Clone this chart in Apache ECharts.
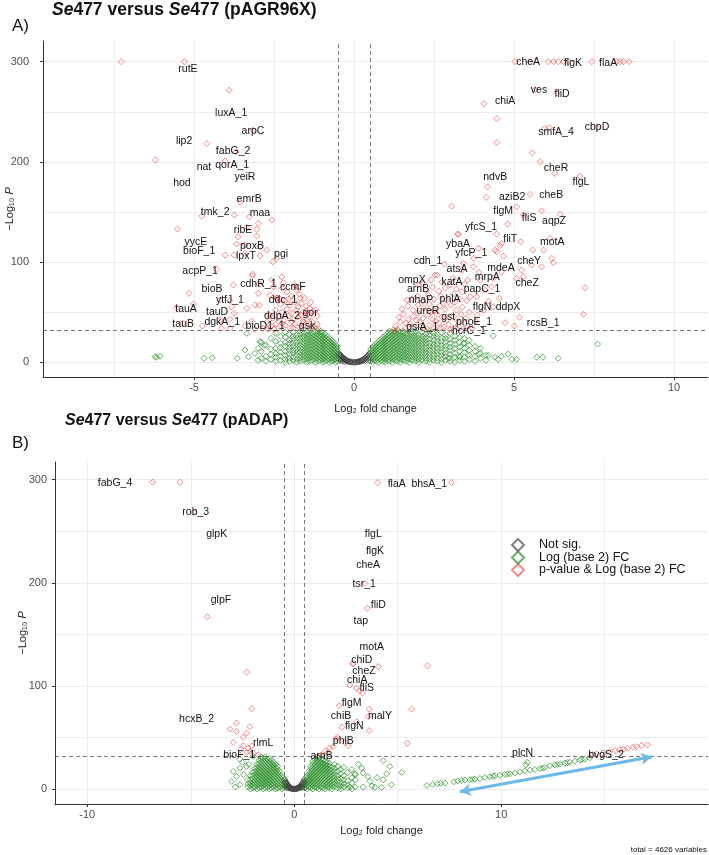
<!DOCTYPE html>
<html>
<head>
<meta charset="utf-8">
<script src="https://cdn.jsdelivr.net/npm/echarts@6/dist/echarts.min.js"></script>
<style>
  html, body { margin: 0; padding: 0; background: #fff; }
  #chart { width: 709px; height: 855px; }
</style>
</head>
<body>
<div id="chart"></div>
<script>
var FONT = 'Liberation Sans, Arial, sans-serif';

var seriesNames = ['Not sig.', 'Log (base 2) FC', 'p-value & Log (base 2) FC'];
var fcCutoff = 0.5;
var pCutoff = 32;

var xTicksA = [-5, 0, 5, 10];
var xGridA = [-7.5, -5, -2.5, 0, 2.5, 5, 7.5, 10];
var xTicksB = [-10, 0, 10];
var xGridB = [-10, -5, 0, 5, 10, 15];
var yTicks = [0, 100, 200, 300];
var yGrid = [0, 50, 100, 150, 200, 250, 300];

// ---------- panel A : Se477 vs Se477 (pAGR96X) ----------
var greyA = [[-0.49,9.8],[-0.48,7.5],[-0.47,5.2],[-0.46,8.6],[-0.45,3.1],[-0.44,6.9],[-0.43,1.4],[-0.42,7.2],[-0.41,4.3],[-0.4,6.3],
  [-0.39,2.2],[-0.38,5.6],[-0.36,4.9],[-0.35,1.1],[-0.34,4.4],[-0.33,3.0],[-0.31,3.7],[-0.3,0.8],[-0.29,3.2],[-0.27,2.6],
  [-0.26,1.4],[-0.24,2.2],[-0.22,1.6],[-0.2,0.6],[-0.18,1.2],[-0.16,0.9],[-0.14,0.4],[-0.12,0.6],[-0.1,0.3],[-0.08,0.2],
  [-0.05,0.1],[-0.02,0.05],[0.01,0.05],[0.04,0.1],[0.07,0.2],[0.09,0.4],[0.11,0.3],[0.13,0.7],[0.15,0.5],[0.17,1.0],
  [0.19,1.4],[0.21,0.7],[0.23,1.9],[0.25,2.3],[0.27,1.2],[0.29,3.0],[0.3,2.0],[0.32,3.6],[0.34,4.1],[0.35,1.5],
  [0.37,4.8],[0.39,5.4],[0.4,2.7],[0.42,6.3],[0.43,3.9],[0.44,7.1],[0.46,8.0],[0.47,5.0],[0.48,1.8],[0.49,9.5]];

// green columns: [log2FC, [-log10 p values]]
var greenColsA = [
  [0.52,[1,4,7,10,13]],[0.58,[0,3,6,9,12,15]],[0.64,[2,5,8,11,14,17]],[0.7,[1,4,7,10,13,16,19]],
  [0.77,[0,3,6,9,12,15,18,21]],[0.84,[2,5,8,11,14,17,20,23]],[0.91,[1,4,7,10,13,16,19,22,25]],
  [0.98,[0,3,6,9,12,15,18,21,24,27]],[1.05,[2,5,8,11,14,17,20,23,26,29]],[1.12,[1,4,7,10,13,16,19,22,25,28,31]],
  [1.2,[0,3,6,9,12,15,18,21,24,27,30]],[1.28,[2,5,8,11,14,17,20,23,26,29,31]],[1.36,[1,4,7,10,13,16,19,22,25,28,31]],
  [1.45,[0,3,6,9,12,15,18,21,24,27,30]],[1.54,[2,5,8,11,14,17,20,23,26,29,31]],[1.63,[1,4,7,10,13,16,19,22,25,28]],
  [1.72,[0,3,6,9,12,15,18,21,24,27,30]],[1.82,[2,5,8,11,14,17,20,23,26,29]],[1.92,[1,4,7,10,13,16,19,22,25,28,31]],
  [2.02,[0,3,6,9,12,15,18,21,24,27]],[2.13,[2,5,8,11,14,17,20,23,26,30]],[2.24,[1,4,7,10,13,16,19,22,25,28]],
  [2.36,[0,3,6,9,12,16,19,23,27,31]],[2.48,[2,5,8,12,15,18,22,26,29]],[2.6,[1,4,8,11,14,18,21,25,28]],
  [2.73,[0,3,7,10,14,17,21,24,30]],[2.86,[2,6,9,13,16,20,24,27]],[3.0,[1,4,8,12,15,19,23,29]],
  [3.15,[0,5,9,14,18,22,26]],[3.3,[2,6,11,15,20,25]],[3.45,[1,5,10,14,19,24]],[3.6,[3,7,12,17,22]],
  [3.78,[1,6,11,16]],[3.95,[4,9,14]],[4.12,[2,7]],
  [-0.52,[1,4,7,10,13,16]],[-0.58,[0,3,6,9,12,15,18]],[-0.64,[2,5,8,11,14,17,20]],[-0.7,[1,4,7,10,13,16,19,22]],
  [-0.77,[0,3,6,9,12,15,18,21,24]],[-0.84,[2,5,8,11,14,17,20,23,26]],[-0.91,[1,4,7,10,13,16,19,22,25,28]],
  [-0.98,[0,3,6,9,12,15,18,21,24,27,30]],[-1.05,[2,5,8,11,14,17,20,23,26,29,31]],[-1.13,[1,4,7,10,13,16,19,22,25,28,31]],
  [-1.21,[0,3,6,9,12,15,18,21,24,27,30]],[-1.3,[2,5,8,11,14,17,20,23,26,29]],[-1.39,[1,4,7,10,13,16,19,22,25,28,31]],
  [-1.48,[0,3,6,9,12,15,18,21,24,27,30]],[-1.58,[2,5,8,11,14,17,20,23,26,29]],[-1.68,[1,4,7,10,14,17,21,24,28,31]],
  [-1.79,[0,3,7,10,13,17,20,24,27]],[-1.9,[2,5,9,12,16,19,23,26,30]],[-2.02,[1,4,8,12,15,19,22,28]],
  [-2.15,[0,3,7,11,16,20,25,30]],[-2.3,[2,6,10,15,19,26]],[-2.45,[1,5,9,14,21,29]],[-2.6,[3,8,13,24]],
  [-2.75,[1,6,17]],[-2.9,[4,11,20]]];
var greenA = [[4.35,26.5],[3.42,18.9],[4.82,8.3],[4.93,3],[5.08,3],[5.71,5],[5.9,5],[6.38,4],[7.61,18.2],[4.4,5],
  [4.5,3],[4.2,7],[3.9,8],[2.95,4],[3.3,5],[4.6,6],[-3.35,28.9],[-3.41,12.3],[-3.3,5.6],[-4.69,4],[-4.43,4.6],
  [-3.65,4],[-6.22,5.5],[-6.17,5],[-6.06,6],[-2.94,20.5],[-2.99,14],[-2.8,17],[-3.1,9],[-3.0,2]];

var redA = [[-7.28,300],[-5.30,300],[-3.90,271.5],[-4.6,218.3],[-6.21,202],[-4.03,201],[-3.15,231.6],[-3.69,210],
  [-3.56,160],[-4.76,145.9],[-3.74,146.9],[-3.27,145.2],[-2.57,141.9],[-2.99,138.6],[-5.52,132.9],[-3.35,134.6],
  [-3.04,132.6],[-3.62,125.2],[-3.04,125.9],[-3.41,117],[-3.67,118],[-2.94,115.3],[-2.73,112],[-4.03,107],[-3.75,107],
  [-3.41,108.7],[-2.94,106.3],[-2.54,100.3],[-2.42,103.7],[-4.29,92.7],[-3.17,88],[-2.26,85.3],[-2.21,79.4],[-3.77,77.1],
  [-2.96,78.1],[-2.52,75.4],[-2.57,82],[-2.24,73.8],[-5.16,68.8],[-2.99,68.8],[-2.63,67.1],[-2.42,63.8],[-2.33,63.8],
  [-5.02,58.1],[-5.54,54.8],[-4.19,62.1],[-3.88,61.4],[-3.82,55.4],[-3.35,53.8],[-3.09,57.1],[-2.96,57.1],[-3.75,48.9],
  [-3.88,42.9],[-4.19,42.2],[-4.74,36.2],[-5.35,38.9],[-4.14,33.9],[-3.88,33.9],[-3.18,86.3],
  [-2.1,70],[-1.95,66],[-1.8,72],[-1.7,68],[-1.55,64],[-2.3,58],[-2.15,61],[-2.0,57],[-1.85,60],[-1.65,59],[-1.5,56],
  [-1.35,60],[-1.2,52],[-2.45,52],[-2.25,50],[-2.1,53],[-1.95,49],[-1.8,52],[-1.6,50],[-1.45,48],[-1.3,51],[-1.15,46],
  [-2.55,44],[-2.35,45],[-2.2,42],[-2.05,46],[-1.9,43],[-1.75,45],[-1.6,41],[-1.45,43],[-1.3,40],[-1.15,38],[-2.6,36],
  [-2.45,38],[-2.3,35],[-2.15,37],[-2.0,34],[-1.85,38],[-1.7,35],[-1.55,37],[-1.4,34],[-1.25,35],[-1.1,33],[-2.7,33],
  [-2.5,33],[-1.95,40],[-1.65,47],[-1.4,45],[-1.75,55],[-2.4,64],[-1.58,40],[-1.3,36],[-1.9,34],[-2.25,39],[-1.5,51],
  [-2.05,63],[-1.85,77],[-1.75,75],[-1.68,64],[-1.38,54],[-3.1,33],[-2.85,34],[-2.72,40],[-2.68,48],[-3.2,41],[-3.4,36],
  [5.03,300],[5.5,300],[6.07,300],[6.23,300],[6.38,300],[6.54,300],[6.70,300],[7.43,300],[8.21,300],[8.31,300],[8.42,300],
  [8.60,300],[5.66,272],[6.33,268.8],[4.06,258.2],[4.46,243.2],[5.95,233.3],[6.10,234.3],[7.60,234],[4.46,219.3],
  [5.57,209],[5.82,200],[6.28,188.4],[7.06,185.7],[4.17,175.1],[4.13,164.5],[5.5,167.5],[3.05,155.8],[5.08,155.1],
  [5.86,151.1],[6.44,147.6],[5.29,146.9],[4.80,137.9],[3.23,127.9],[4.46,127.9],[6.13,123.6],[4.61,118.6],[4.56,116.5],
  [5.21,120.2],[5.92,112],[5.58,112],[4.41,112],[4.67,106],[6.18,103.7],[5.55,97],[5.86,95.3],[6.23,99.3],[3.73,95.3],
  [2.82,98],[5.24,92],[5.08,83.7],[7.22,74.4],[4.35,83.7],[2.60,87],[2.01,77.1],[4.54,63.8],[7.17,47.9],[5.17,44.9],
  [4.72,39.5],[5.01,36.2],[3.63,65.4],[3.83,65.4],[1.65,62.1],[1.23,32.2],[3.89,113.7],[4.46,110.3],[3.73,103.7],
  [3.42,98.7],[2.53,87],[3.37,92],[4.61,90.3],[5.29,85.3],[2.17,78.8],[3.0,77.1],[3.94,82.1],[4.3,75.4],[3.37,70.4],
  [3.52,61.4],[4.35,55.4],[3.26,127.6],
  [1.3,36],[1.45,40],[1.6,34],[1.75,38],[1.9,35],[2.05,40],[2.2,33],[2.35,37],[2.5,34],[2.65,39],[2.8,35],[2.95,38],
  [3.1,34],[3.25,37],[3.4,33],[3.55,36],[3.7,34],[1.4,45],[1.55,48],[1.7,43],[1.85,46],[2.0,49],[2.15,44],[2.3,47],
  [2.45,43],[2.6,48],[2.75,45],[2.9,42],[3.05,46],[3.2,43],[3.35,48],[3.5,44],[3.8,41],[1.5,53],[1.68,56],[1.85,52],
  [2.0,57],[2.18,54],[2.35,58],[2.5,52],[2.68,56],[2.85,53],[3.02,57],[3.2,52],[3.38,55],[3.6,50],[1.8,63],[1.98,66],
  [2.15,61],[2.32,67],[2.5,63],[2.7,66],[2.9,62],[3.1,68],[3.3,63],[2.25,72],[2.45,75],[2.65,71],[2.85,74],[3.2,73],
  [3.45,78],[2.4,82],[2.75,80],[3.1,84],[3.55,82],[1.35,33],[2.1,36],[2.55,41],[3.0,32.5],[1.95,42],[2.4,50],[2.8,59],
  [3.15,60],[1.62,39],[2.72,34],[3.45,39],[3.85,47],[4.05,52],[4.2,61],[4.1,72],[3.9,90]];

var labelsA = [['rutE',-5.19,292.4],['luxA_1',-3.84,248.5],['arpC',-3.16,230.6],['lip2',-5.31,220.6],['fabG_2',-3.78,210.7],
  ['nat',-4.69,194.8],['qorA_1',-3.81,196.8],['yeiR',-3.41,184.8],['hod',-5.38,179],['emrB',-3.28,162.8],['tmk_2',-4.34,149.9],
  ['maa',-2.94,148.9],['ribE',-3.47,131.9],['yycE',-4.94,120],['poxB',-3.19,116],['bioF_1',-4.84,111],['lpxT',-3.38,106],
  ['pgi',-2.28,108],['acpP_1',-4.81,91],['cdhR_1',-2.99,78],['ccmF',-1.91,75],['bioB',-4.44,73],['ytfJ_1',-3.88,62],
  ['ddc_1',-2.22,62],['tauA',-5.25,53],['tauD',-4.28,50],['ddpA_2',-2.25,46],['gor',-1.375,49],['tauB',-5.34,38],
  ['dgkA_1',-4.12,40],['bioD1_1',-2.78,36],['gsk',-1.47,36],
  ['cheA',5.44,299.4],['flgK',6.84,299],['flaA',7.94,299],['ves',5.78,271.5],['fliD',6.5,267.5],['chiA',4.72,260.5],
  ['smfA_4',6.31,229.5],['cbpD',7.59,234.5],['cheR',6.31,193.6],['ndvB',4.41,184.7],['flgL',7.09,179.7],['aziB2',4.94,164.7],
  ['cheB',6.16,166.8],['flgM',4.66,151],['fliS',5.47,143.8],['aqpZ',6.25,141],['yfcS_1',3.97,135],['fliT',4.88,123],
  ['motA',6.19,120],['ybaA',3.25,118],['yfcP_1',3.66,109],['cdh_1',2.31,101],['cheY',5.47,101],['atsA',3.22,93],
  ['mdeA',4.59,94],['ompX',1.81,82],['katA',3.06,80],['mrpA',4.16,85],['cheZ',5.41,79],['arnB',2.0,73],['papC_1',4.0,73],
  ['nhaP',2.09,62],['phlA',3.0,63],['flgN',4.0,55],['ddpX',4.81,55],['ureR',2.31,51],['gst',2.94,45],['phoE_1',3.75,40],
  ['rcsB_1',5.91,39],['gsiA_1',2.13,35],['hcrC_1',3.59,31]];

// ---------- panel B : Se477 vs Se477 (pADAP) ----------
var greyB = [[-0.49,8.9],[-0.47,6.2],[-0.46,9.5],[-0.45,3.8],[-0.43,7.4],[-0.42,1.9],[-0.41,5.6],[-0.39,6.5],[-0.38,2.9],
  [-0.36,5.2],[-0.35,0.9],[-0.33,4.1],[-0.31,2.4],[-0.3,3.6],[-0.28,1.2],[-0.26,2.8],[-0.24,1.9],[-0.22,0.7],[-0.2,1.5],
  [-0.18,0.9],[-0.15,0.6],[-0.12,0.4],[-0.09,0.2],[-0.06,0.1],[-0.03,0.1],[0,0.05],[0.03,0.1],[0.06,0.2],[0.09,0.3],
  [0.12,0.5],[0.15,0.4],[0.17,1.1],[0.2,0.8],[0.22,1.8],[0.24,1.0],[0.26,2.5],[0.28,1.6],[0.3,3.3],[0.32,2.2],[0.34,4.2],
  [0.36,1.4],[0.37,4.9],[0.39,3.1],[0.41,5.9],[0.42,2.4],[0.44,6.8],[0.45,4.5],[0.47,8.1],[0.48,1.2],[0.49,9.6],[0.5,5.5]];

var greenColsB = [
  [-0.52,[1,4,7]],[-0.6,[0,3,6,9,12]],[-0.7,[2,5,8,11,14,17]],[-0.8,[1,4,7,10,13,16,19,22]],
  [-0.9,[0,3,6,9,12,15,18,21,24]],[-1.0,[2,5,8,11,14,17,20,23,26]],[-1.1,[1,4,7,10,13,16,19,22,25,28]],
  [-1.2,[0,3,6,9,12,15,18,21,24,27,30]],[-1.3,[2,5,8,11,14,17,20,23,26,29]],[-1.4,[1,4,7,10,13,16,19,22,25,28,31]],
  [-1.5,[0,3,6,9,12,15,18,21,24,27,30]],[-1.6,[2,5,8,11,14,17,20,23,26,29,31]],[-1.7,[1,4,7,10,13,16,19,22,25,28]],
  [-1.8,[0,3,6,9,12,15,18,21,24]],[-1.9,[2,5,8,11,14,17,20]],[-2.0,[1,4,7,10,13,16]],[-2.12,[0,3,6,9,13]],
  [-2.25,[2,5,9]],
  [0.52,[1,4,7]],[0.6,[0,3,6,9,12]],[0.7,[2,5,8,11,14,17]],[0.8,[1,4,7,10,13,16,19,22]],
  [0.9,[0,3,6,9,12,15,18,21,24,27]],[1.0,[2,5,8,11,14,17,20,23,26,29]],[1.1,[1,4,7,10,13,16,19,22,25,28,31]],
  [1.2,[0,3,6,9,12,15,18,21,24,27,30]],[1.3,[2,5,8,11,14,17,20,23,26,29]],[1.4,[1,4,7,10,13,16,19,22,25,28]],
  [1.5,[0,3,6,9,12,15,18,21,24,27]],[1.6,[2,5,8,11,14,17,20,23,26]],[1.7,[1,4,7,10,13,16,19,22,25]],
  [1.82,[0,3,6,9,12,15,18,21]],[1.95,[2,5,8,11,14,17,20,24]],[2.1,[1,4,7,10,13,17,22]],[2.25,[0,3,6,10,15,19]],
  [2.4,[2,5,9,13,21]],[2.58,[1,4,8,16]],[2.78,[0,6,11,19]],[2.95,[2,9,14]]];
var greenB = [[-3.02,7.4],[-2.63,4.2],[-2.79,12.3],[-2.95,17.1],[-2.63,20.3],[-2.31,21.9],[-2.63,29.0],[-1.99,31.6],
  [-2.45,14],[-2.5,26],[-2.2,24],[-2.85,2],
  [3.26,20.3],[3.33,15.5],[4.3,27.6],[4.62,21.9],[4.46,14.8],[4.3,9.0],[5.19,16.1],[4.70,4.2],[3.66,7.4],[3.90,1.9],
  [3.33,1.9],[4.22,1.6],[2.93,14.8],[2.69,1.9],[3.1,24],[3.55,12],[4.0,11],[3.75,3],
  [6.40,3.5],[6.69,4.5],[6.91,5.1],[7.07,5.5],[7.28,5.8],[7.71,7.1],[8.09,8.3],[8.25,8.7],[8.49,9.0],[8.73,9.7],
  [8.97,10.3],[9.21,11.3],[9.45,11.9],[9.70,12.9],[9.94,13.5],[10.18,14.2],[10.42,14.8],[10.66,15.5],[10.90,16.8],
  [11.14,17.7],[11.39,18.4],[11.63,19.0],[11.87,19.9],[12.11,20.9],[12.35,22.6],[12.59,23.5],[12.84,24.2],[13.08,25.2],
  [13.32,26.1],[13.56,27.1],[13.80,28.0],[14.04,29.0],[14.28,30.3],[11.26,25.8],[11.19,23.5],[9.6,12.4],[10.3,14.6],
  [12.0,20.3],[12.7,23.9],[13.2,25.6],[13.9,28.6],[8.6,9.4],[7.9,7.7]];

var redB = [[-6.84,297.5],[-5.52,297.5],[-4.85,268],[-4.2,167],[-2.30,113.3],[-2.06,77.8],[-2.79,63.9],[-3.11,58.1],
  [-2.79,55.8],[-2.14,60.6],[-2.30,54.2],[-2.46,50.3],[-2.95,45.2],[-2.23,39.7],[-2.46,42],[-2.14,36.5],[-1.97,34.8],
  [-2.30,35.5],[-1.75,33.2],[-2.6,38],[-2.05,42],
  [4.03,297.2],[7.6,297.2],[3.53,175.2],[3.42,199.4],[6.44,119.4],[4.06,118.7],[2.82,121.3],[2.69,100.7],[3.0,98],
  [3.15,95],[3.3,93],[2.17,80.6],[3.62,77.4],[5.67,77.4],[3.01,65.4],[3.58,70.3],[3.62,56.7],[5.46,44.5],[2.61,41.9],
  [2.08,50.3],[1.5,37],[1.7,40],[1.88,41.3],[1.6,35],[1.3,33],[2.04,48.5],[2.85,121.6],[2.3,60],[2.45,45],
  [14.4,33.5],[14.6,34.2],[14.93,34.8],[15.25,36.5],[15.5,37.3],[15.73,38.1],[15.9,38.7],[16.1,39.5],[16.38,40.7],
  [16.55,41.2],[16.78,42.3],[17.07,42.9]];

var labelsB = [['fabG_4',-8.66,296.8],['rob_3',-4.76,268.7],['glpK',-3.75,247],['glpF',-3.54,183.3],['flaA',4.95,295.9],
  ['bhsA_1',6.52,295.9],['flgL',3.82,247.1],['flgK',3.9,230.4],['cheA',3.57,216.8],['tsr_1',3.38,198.7],['fliD',4.06,178.7],
  ['tap',3.22,162.9],['motA',3.74,138],['chiD',3.26,125.2],['cheZ',3.37,114.8],['chiA',3.04,105.8],['fliS',3.5,97.4],
  ['flgM',2.77,83.2],['chiB',2.26,70.3],['malY',4.14,70.3],['flgN',2.9,60.6],['phlB',2.37,46.1],['arnB',1.32,32.2],
  ['rlmL',-1.5,44.5],['hcxB_2',-4.72,68],['bioF_1',-2.66,33.2],['plcN',11.03,34.8],['bvgS_2',15.06,32.5]];

// highlighted trend in panel B (double arrow, data coords)
var arrowB = [[8.0, -2.6], [17.28, 31.3]];

function flatten(cols, extra) {
  var out = [];
  cols.forEach(function (c) {
    c[1].forEach(function (y) { out.push([c[0], y]); });
  });
  return out.concat(extra);
}

var colours = ['rgba(60,60,60,0.8)', 'rgba(34,139,34,0.85)', 'rgba(232,20,20,0.62)'];

function pointSeries(name, data, colour, xi, yi, extra) {
  var s = {
    name: name,
    type: 'scatter',
    xAxisIndex: xi,
    yAxisIndex: yi,
    data: data,
    symbol: 'diamond',
    symbolSize: 6,
    itemStyle: { color: 'rgba(255,255,255,0)', borderColor: colour, borderWidth: 1 },
    emphasis: { disabled: true },
    silent: true
  };
  for (var k in extra) s[k] = extra[k];
  return s;
}

function labelSeries(id, labels, xi, yi) {
  return {
    id: id,
    type: 'scatter',
    xAxisIndex: xi,
    yAxisIndex: yi,
    symbol: 'circle',
    symbolSize: 0.5,
    itemStyle: { color: 'rgba(255,255,255,0)', borderWidth: 0 },
    silent: true,
    z: 5,
    data: labels.map(function (l) { return { name: l[0], value: [l[1], l[2]] }; }),
    label: {
      show: true,
      position: 'inside',
      formatter: '{b}',
      color: '#111',
      opacity: 1,
      fontFamily: FONT,
      fontSize: 10.5,
      textBorderWidth: 0
    }
  };
}

function cutLines() {
  return {
    silent: true,
    symbol: 'none',
    label: { show: false },
    lineStyle: { color: '#555', type: [4, 3], width: 0.8 },
    data: [{ xAxis: -fcCutoff }, { xAxis: fcCutoff }, { yAxis: pCutoff }]
  };
}

function gridAxis(g, min, max, values, pos) {
  return {
    type: 'value', gridIndex: g, min: min, max: max, position: pos,
    axisLine: { show: false }, axisLabel: { show: false },
    axisTick: { show: false, customValues: values },
    splitLine: { show: true, lineStyle: { color: '#ebebeb', width: 1 } }
  };
}

function mainAxis(g, min, max, values, pos, name, gap, labelMargin) {
  return {
    type: 'value', gridIndex: g, min: min, max: max, position: pos,
    axisLine: { show: true, onZero: false, lineStyle: { color: '#333', width: 1 } },
    axisTick: { show: true, length: 3, customValues: values, lineStyle: { color: '#333' } },
    axisLabel: { customValues: values, color: '#4d4d4d', fontFamily: FONT, fontSize: 11, margin: labelMargin },
    splitLine: { show: false },
    name: name, nameLocation: 'middle', nameGap: gap, nameMoveOverlap: false,
    nameTextStyle: {
      color: '#222', fontFamily: FONT, fontSize: 11,
      rich: { p: { fontStyle: 'italic', fontFamily: FONT, fontSize: 11, color: '#222' } }
    }
  };
}

var yName = '−Log₁₀ {p|P}';
var xName = 'Log₂ fold change';

var chart = echarts.init(document.getElementById('chart'), null, { renderer: 'canvas' });

function titleStyle(size) {
  return {
    fontFamily: FONT, fontSize: size, fontWeight: 'bold', color: '#111',
    rich: { i: { fontFamily: FONT, fontSize: size, fontWeight: 'bold', fontStyle: 'italic', color: '#111' } }
  };
}

chart.setOption({
  animation: false,
  backgroundColor: '#fff',
  title: [
    { text: '{i|Se}477 versus {i|Se}477 (pAGR96X)', left: 52, top: 1, padding: 0, textStyle: titleStyle(17.5) },
    { text: 'A)', left: 12, top: 18, padding: 0, textStyle: { fontFamily: FONT, fontSize: 17, fontWeight: 'normal', color: '#111' } },
    { text: '{i|Se}477 versus {i|Se}477 (pADAP)', left: 65, top: 413, padding: 0, textStyle: titleStyle(16) },
    { text: 'B)', left: 12, top: 435, padding: 0, textStyle: { fontFamily: FONT, fontSize: 17, fontWeight: 'normal', color: '#111' } }
  ],
  grid: [
    { left: 43, top: 41, width: 665, height: 336, outerBoundsMode: 'none', containLabel: false },
    { left: 55, top: 462, width: 653, height: 342, outerBoundsMode: 'none', containLabel: false }
  ],
  xAxis: [
    gridAxis(0, -9.72, 11.06, xGridA, 'bottom'),
    mainAxis(0, -9.72, 11.06, xTicksA, 'bottom', xName, 26, 5),
    gridAxis(1, -11.56, 19.99, xGridB, 'bottom'),
    mainAxis(1, -11.56, 19.99, xTicksB, 'bottom', xName, 21, 5)
  ],
  yAxis: [
    gridAxis(0, -14.66, 320.6, yGrid, 'left'),
    mainAxis(0, -14.66, 320.6, yTicks, 'left', yName, 28, 14),
    gridAxis(1, -14.5, 317.1, yGrid, 'left'),
    mainAxis(1, -14.5, 317.1, yTicks, 'left', yName, 27, 8)
  ],
  legend: {
    data: seriesNames,
    orient: 'vertical',
    left: 511,
    top: 538,
    padding: 0,
    itemWidth: 12,
    itemHeight: 12,
    itemGap: -1.5,
    icon: 'diamond',
    selectedMode: false,
    textStyle: { fontFamily: FONT, fontSize: 12.5, color: '#111', padding: [0, 0, 0, 10], lineHeight: 12 }
  },
  graphic: [
    {
      type: 'text', right: 2, bottom: 1,
      style: { text: 'total = 4626 variables', fill: '#111', font: '8px ' + FONT }
    }
  ],
  series: [
    pointSeries(seriesNames[0], greyA, colours[0], 1, 1, { markLine: cutLines() }),
    pointSeries(seriesNames[1], flatten(greenColsA, greenA), colours[1], 1, 1),
    pointSeries(seriesNames[2], redA, colours[2], 1, 1),
    labelSeries('labelsA', labelsA, 1, 1),
    pointSeries(seriesNames[0], greyB, colours[0], 3, 3, { markLine: cutLines() }),
    pointSeries(seriesNames[1], flatten(greenColsB, greenB), colours[1], 3, 3),
    pointSeries(seriesNames[2], redB, colours[2], 3, 3, {
      markLine: {
        silent: true,
        symbol: ['arrow', 'arrow'],
        symbolSize: [9, 11],
        label: { show: false },
        lineStyle: { color: '#6cb8e6', type: 'solid', width: 3 },
        data: [[{ coord: arrowB[0] }, { coord: arrowB[1] }]]
      }
    }),
    labelSeries('labelsB', labelsB, 3, 3)
  ]
});
</script>
</body>
</html>
